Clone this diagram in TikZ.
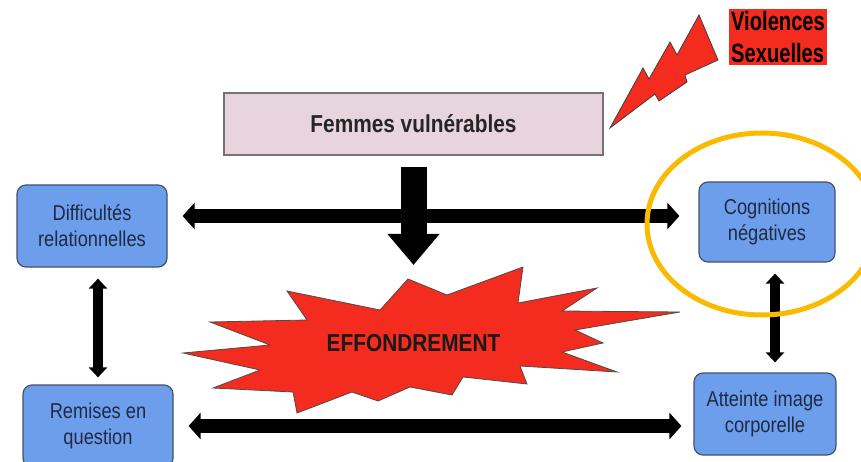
\documentclass[tikz,border=0pt]{standalone}
\usepackage{fontspec}
\setmainfont{Liberation Sans}[FakeStretch=0.85]
\newfontfamily\violfont{Liberation Sans}[FakeStretch=0.76]
\usetikzlibrary{arrows.meta}
\definecolor{boxblue}{HTML}{6D9EEB}
\definecolor{boxline}{HTML}{44526C}
\definecolor{boxtext}{HTML}{1F2A45}
\definecolor{pinkbox}{HTML}{E8D4DC}
\definecolor{alarmred}{HTML}{F42B1F}
\definecolor{ringgold}{HTML}{F9BA00}

\begin{document}
\begin{tikzpicture}[x=1pt,y=-1pt]
\newcommand{\boxfont}{\fontsize{21.5}{26}\selectfont}
\newcommand{\bigfont}{\fontsize{24.5}{30}\selectfont\bfseries}

\tikzset{symptom/.style={draw=boxline, line width=1.2pt, fill=boxblue, rounded corners=9pt, align=center, text=boxtext, font=\boxfont, inner sep=0pt}}
\tikzset{linkarrow/.style={line width=14pt, {Triangle[width=26pt,length=12pt]}-{Triangle[width=26pt,length=12pt]}}}
\tikzset{vlink/.style={line width=10pt, {Triangle[width=18pt,length=10pt]}-{Triangle[width=18pt,length=10pt]}}}
\tikzset{fallarrow/.style={line width=26pt, -{Triangle[width=50pt,length=31pt]}}}

    \clip (0,0) rectangle (861,462);
    
    \node[draw=black!55, line width=1.2pt, fill=pinkbox, minimum width=379pt, minimum height=62pt, font=\bigfont, text=black!85] (fem) at (413.5,124) {Femmes vulnérables};
    
    \node[symptom, minimum width=150pt, minimum height=82pt] (dif) at (92,226) {Difficultés\\relationnelles};
    \node[symptom, minimum width=150pt, minimum height=82pt] (rem) at (98,426) {Remises en\\question};
    \node[symptom, minimum width=136pt, minimum height=80pt] (cog) at (767,222) {Cognitions\\négatives};
    \node[symptom, minimum width=142pt, minimum height=82pt] (att) at (765,414) {Atteinte image\\corporelle};
    
    \node[fill=alarmred, inner sep=2pt, align=left, font=\violfont\fontsize{26.5}{32}\selectfont\bfseries] (viol) at (778,37) {Violences\\Sexuelles};
    
    % lightning
    \draw[fill=alarmred, draw=black!75, line width=0.8pt, line join=miter] (610,128) -- (643,68) -- (649,79) -- (670,42) -- (677,55) -- (699,15) -- (718,60) -- (685,75) -- (687,82) -- (659,101) -- (655,94) -- cycle;
    
    % explosion
    \coordinate (peak) at (408,279);
    \draw[fill=alarmred, draw=black!70, line width=0.8pt] (peak) -- (447,295) -- (523,267) -- (518,303) -- (597,288) -- (562,311) -- (680,312) -- (575,330) -- (603,343) -- (562,352) -- (617,372) -- (520,366) -- (527,384) -- (463,377) -- (452,395) -- (410,387) -- (378,401) -- (352,392) -- (297,413) -- (293,392) -- (213,388) -- (260,370) -- (183,353) -- (270,345) -- (210,322) -- (307,320) -- (287,291) -- (380,310) -- cycle;
    \node[font=\bigfont, text=black!90] (eff) at (413.5,343) {EFFONDREMENT};
    
    \draw[linkarrow, shorten <=15pt, shorten >=19pt] ([yshift=10pt]dif.east) -- ([yshift=10pt]dif.east -| cog.west);
    \draw[linkarrow, shorten <=15pt, shorten >=12pt] (rem.east) -- (rem.east -| att.west);
    \draw[vlink, shorten <=11pt, shorten >=7pt] (rem.north |- dif.south) -- (rem.north);
    \draw[vlink, shorten <=11pt, shorten >=10pt] ([xshift=8pt]cog.south) -- ([xshift=8pt]cog.south |- att.north);
    \draw[fallarrow, shorten <=11pt, shorten >=14pt] (fem.south) -- (fem.south |- peak);
    
    \draw[ringgold, line width=5pt] (762,224) ellipse [x radius=115, y radius=91];
\end{tikzpicture}
\end{document}
